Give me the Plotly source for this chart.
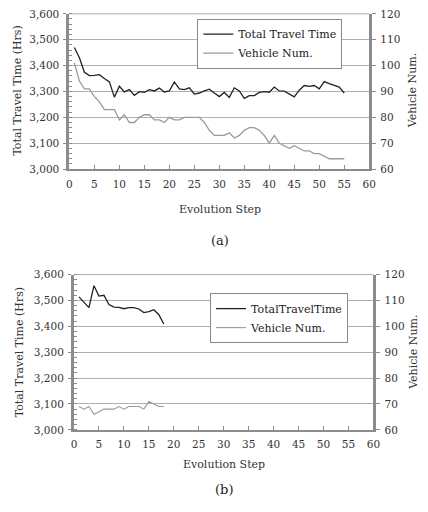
import plotly.graph_objects as go

steps_a = list(range(1, 56))
ttt_a = [3470, 3430, 3374, 3361, 3362, 3365, 3350, 3337, 3278, 3320,
         3298, 3307, 3285, 3299, 3297, 3307, 3302, 3313, 3298, 3302,
         3337, 3310, 3307, 3314, 3290, 3294, 3302, 3309, 3294, 3280,
         3296, 3277, 3314, 3302, 3273, 3284, 3284, 3296, 3299, 3297,
         3317, 3302, 3301, 3290, 3279, 3305, 3323, 3320, 3323, 3310,
         3338, 3330, 3322, 3317, 3294]
veh_a = [101, 94, 91, 91, 88, 86, 83, 83, 83, 79,
         81, 78, 78, 80, 81, 81, 79, 79, 78, 80,
         79, 79, 80, 80, 80, 80, 78, 75, 73, 73,
         73, 74, 72, 73, 75, 76, 76, 75, 73, 70,
         73, 70, 69, 68, 69, 68, 67, 67, 66, 66,
         65, 64, 64, 64, 64]

steps_b = list(range(1, 19))
ttt_b = [3514, 3493, 3472, 3557, 3517, 3520, 3484, 3474, 3473, 3468,
         3472, 3472, 3467, 3453, 3457, 3464, 3445, 3409]
veh_b = [69, 68, 69, 66, 67, 68, 68, 68, 69, 68,
         69, 69, 69, 68, 71, 70, 69, 69]

x_ticks = list(range(0, 61, 5))
left_ticks = list(range(3000, 3601, 100))
left_labels = [f"{v:,}" for v in left_ticks]
right_ticks = list(range(60, 121, 10))

FONT = "DejaVu Serif"
DARK = "#222222"
LIGHT = "#9a9a9a"
AXC = "#8c8c8c"
GRID = "#b0b0b0"

W, H = 428, 512
def px(x): return x / W
def py(y): return 1 - y / H

fig = go.Figure()
fig.add_trace(go.Scatter(x=steps_a, y=ttt_a, mode="lines", name="Total Travel Time",
                         line=dict(color=DARK, width=1.3), xaxis="x", yaxis="y", legend="legend"))
fig.add_trace(go.Scatter(x=steps_a, y=veh_a, mode="lines", name="Vehicle Num.",
                         line=dict(color=LIGHT, width=1.3), xaxis="x", yaxis="y2", legend="legend"))
fig.add_trace(go.Scatter(x=steps_b, y=ttt_b, mode="lines", name="TotalTravelTime",
                         line=dict(color=DARK, width=1.3), xaxis="x2", yaxis="y3", legend="legend2"))
fig.add_trace(go.Scatter(x=steps_b, y=veh_b, mode="lines", name="Vehicle Num.",
                         line=dict(color=LIGHT, width=1.1), xaxis="x2", yaxis="y4", legend="legend2"))

tickfont = dict(family=FONT, size=10.5, color="#333333")

def xax(domain, anchor):
    return dict(domain=domain, anchor=anchor, range=[0, 60], tickvals=x_ticks,
                showline=True, linecolor=AXC, linewidth=2, ticks="inside", ticklen=4,
                tickcolor=AXC, tickfont=tickfont, showgrid=False, zeroline=False,
                ticklabelstandoff=4, fixedrange=True)

def ylax(domain, anchor):
    return dict(domain=domain, anchor=anchor, range=[3000, 3600], tickvals=left_ticks,
                ticktext=left_labels, showline=True, linecolor=AXC, linewidth=3,
                ticks="outside", ticklen=3, tickcolor=AXC, tickfont=tickfont,
                showgrid=True, gridcolor=GRID, gridwidth=1, zeroline=False,
                minor=dict(dtick=20, ticks="inside", ticklen=3, tickcolor=AXC, showgrid=False),
                ticklabelstandoff=2, fixedrange=True)

def yrax(overlay, anchor):
    return dict(overlaying=overlay, anchor=anchor, side="right", range=[60, 120],
                tickvals=right_ticks, showline=True, linecolor=AXC, linewidth=3,
                ticks="outside", ticklen=4, tickcolor=AXC, tickfont=tickfont,
                showgrid=False, zeroline=False, ticklabelstandoff=2, fixedrange=True)

dom_xa = [px(68), px(375)]
dom_ya = [py(167), py(8)]
dom_xb = [px(72.7), px(379.3)]
dom_yb = [py(434), py(275)]

legfont = dict(family=FONT, size=11, color="#222222")

fig.update_layout(
    width=W, height=H, margin=dict(l=0, r=0, t=0, b=0),
    paper_bgcolor="white", plot_bgcolor="white",
    font=dict(family=FONT),
    xaxis=xax(dom_xa, "y"),
    yaxis=ylax(dom_ya, "x"),
    yaxis2=yrax("y", "x"),
    xaxis2=xax(dom_xb, "y3"),
    yaxis3=ylax(dom_yb, "x2"),
    yaxis4=yrax("y3", "x2"),
    legend=dict(x=px(199), y=py(13), xanchor="left", yanchor="top",
                bordercolor="#888888", borderwidth=1, bgcolor="white",
                font=legfont, itemwidth=30, tracegroupgap=0),
    legend2=dict(x=px(212), y=py(294), xanchor="left", yanchor="top",
                 bordercolor="#888888", borderwidth=1, bgcolor="white",
                 font=legfont, itemwidth=30, tracegroupgap=0),
    showlegend=True,
)

for xr, yr in (("x domain", "y domain"), ("x2 domain", "y3 domain")):
    fig.add_shape(type="line", xref=xr, yref=yr, x0=0, x1=1, y0=1, y1=1,
                  line=dict(color=GRID, width=1), layer="below")

tfont = dict(family=FONT, size=11, color="#333333")
ann = [
    dict(text="Total Travel Time (Hrs)", x=px(15), y=py(87), textangle=-90, font=tfont),
    dict(text="Vehicle Num.", x=px(420), y=py(87), textangle=-90, font=tfont),
    dict(text="Evolution Step", x=px(222), y=py(208), font=tfont),
    dict(text="(a)", x=px(222), y=py(240), font=dict(family=FONT, size=13, color="#222222")),
    dict(text="Total Travel Time (Hrs)", x=px(17), y=py(355), textangle=-90, font=tfont),
    dict(text="Vehicle Num.", x=px(420), y=py(355), textangle=-90, font=tfont),
    dict(text="Evolution Step", x=px(226), y=py(469), font=tfont),
    dict(text="(b)", x=px(226), y=py(495), font=dict(family=FONT, size=13, color="#222222")),
]
for a in ann:
    a.update(xref="paper", yref="paper", showarrow=False, xanchor="center", yanchor="middle")
fig.update_layout(annotations=ann)

fig.write_html("out.html", config={"displayModeBar": False},
               post_script="document.body.style.margin='0';document.body.style.overflow='hidden';")
